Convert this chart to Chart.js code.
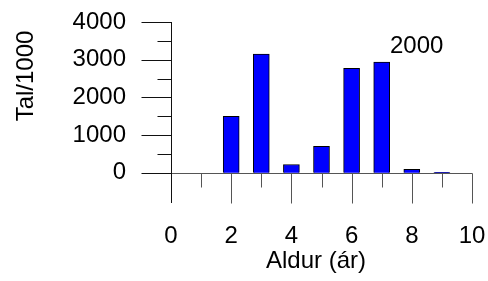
<!DOCTYPE html>
<html>
<head>
<meta charset="utf-8">
<script src="https://cdn.jsdelivr.net/npm/chart.js@4"></script>
<style>
  html, body { margin: 0; padding: 0; background: #fff; }
  #wrap { width: 488px; height: 281px; }
</style>
</head>
<body>
<div id="wrap"><canvas id="aldurChart" width="488" height="281"></canvas></div>
<script>
// Aldursdreifing - tal/1000 eftir aldri, árið 2000
const ages = [2, 3, 4, 5, 6, 7, 8, 9];
const counts = [1500, 3150, 220, 700, 2770, 2940, 90, 15];
const xTicks = [0, 1, 2, 3, 4, 5, 6, 7, 8, 9, 10];
const yTicks = [0, 500, 1000, 1500, 2000, 2500, 3000, 3500, 4000];
const yearLabel = '2000';
const xTitle = 'Aldur (ár)';
const yTitle = 'Tal/1000';

const FONT = '"Liberation Sans", Arial, sans-serif';
const FONT_SIZE = 24;

// Ásar, merki og textar teiknaðir ofan á
const axesPlugin = {
    id: 'axesPlugin',
    afterDatasetsDraw(chart) {
        const ctx = chart.ctx;
        const x = chart.scales.x;
        const y = chart.scales.y;
        const x0 = Math.round(x.getPixelForValue(0)) + 0.5;
        const y0 = Math.round(y.getPixelForValue(0)) + 0.5;
        const yBottom = chart.chartArea.bottom;

        ctx.save();
        ctx.lineWidth = 1;

        // láréttur ás við 0 og merki á x-ás
        ctx.strokeStyle = '#555';
        ctx.beginPath();
        ctx.moveTo(x0, y0);
        ctx.lineTo(Math.round(x.getPixelForValue(10)) + 0.5, y0);
        xTicks.forEach(v => {
            if (v === 0) return;
            const px = Math.round(x.getPixelForValue(v)) + 0.5;
            const len = v % 2 === 0 ? 30 : 14;
            ctx.moveTo(px, y0);
            ctx.lineTo(px, y0 + len);
        });
        ctx.stroke();

        // lóðréttur ás og merki á y-ás
        ctx.strokeStyle = '#111';
        ctx.beginPath();
        ctx.moveTo(x0, Math.round(y.getPixelForValue(4000)));
        ctx.lineTo(x0, yBottom);
        yTicks.forEach(v => {
            const py = Math.round(y.getPixelForValue(v)) + 0.5;
            const len = v % 1000 === 0 ? 30 : 14;
            ctx.moveTo(x0 - len, py);
            ctx.lineTo(x0, py);
        });
        ctx.stroke();

        // textar
        ctx.fillStyle = '#000';
        ctx.font = FONT_SIZE + 'px ' + FONT;
        ctx.textAlign = 'center';
        ctx.textBaseline = 'middle';
        ctx.fillText(xTitle, 316, 261);
        ctx.textAlign = 'left';
        ctx.fillText(yearLabel, 390, 46);
        ctx.translate(26, 76);
        ctx.rotate(-Math.PI / 2);
        ctx.textAlign = 'center';
        ctx.fillText(yTitle, 0, 0);
        ctx.restore();
    }
};

new Chart(document.getElementById('aldurChart'), {
    type: 'bar',
    data: {
        datasets: [{
            label: yearLabel,
            data: ages.map((a, i) => ({ x: a, y: counts[i] })),
            backgroundColor: '#0000ff',
            borderColor: '#000',
            borderWidth: 1,
            barThickness: 16
        }]
    },
    options: {
        responsive: false,
        animation: false,
        devicePixelRatio: 1,
        layout: { padding: { top: 22, right: 16, left: 0, bottom: 0 } },
        plugins: {
            legend: { display: false },
            tooltip: { enabled: false }
        },
        scales: {
            x: {
                type: 'linear',
                min: 0,
                max: 10,
                offset: false,
                grid: { display: false },
                border: { display: false },
                afterBuildTicks: scale => { scale.ticks = xTicks.map(v => ({ value: v })); },
                afterFit: scale => {
                    scale.height = 78;
                    scale.paddingLeft = 0;
                    scale.paddingRight = 0;
                },
                ticks: {
                    autoSkip: false,
                    maxRotation: 0,
                    padding: 11,
                    color: '#000',
                    font: { family: FONT, size: FONT_SIZE },
                    callback: v => (v % 2 === 0 ? String(v) : '')
                }
            },
            y: {
                min: -800,
                max: 4000,
                grid: { display: false },
                border: { display: false },
                afterBuildTicks: scale => { scale.ticks = yTicks.map(v => ({ value: v })); },
                afterFit: scale => {
                    scale.width = 171;
                    scale.paddingTop = 0;
                    scale.paddingBottom = 0;
                },
                ticks: {
                    autoSkip: false,
                    padding: 37,
                    color: '#000',
                    font: { family: FONT, size: FONT_SIZE },
                    callback: v => (v % 1000 === 0 ? String(v) : '')
                }
            }
        }
    },
    plugins: [axesPlugin]
});
</script>
</body>
</html>
